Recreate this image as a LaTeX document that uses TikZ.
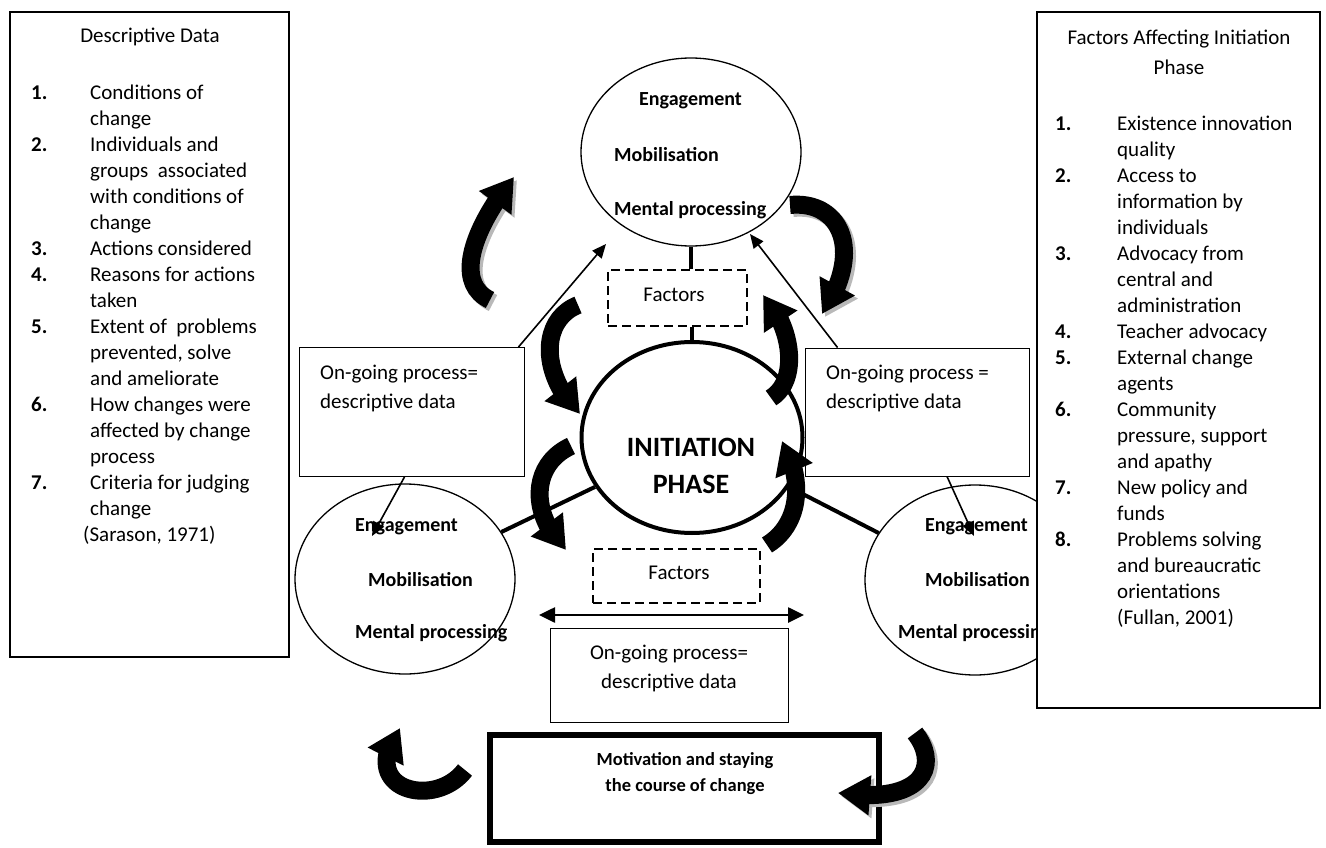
\documentclass[tikz,border=0pt]{standalone}
\usepackage{fontspec}
\setmainfont{Carlito}
\usetikzlibrary{shapes.geometric,arrows.meta,bending}

\tikzset{
  txt/.style={font=\fontsize{21}{26}\selectfont, inner sep=0pt},
  lbl/.style={font=\fontsize{20}{24}\selectfont\bfseries, inner sep=0pt},
  listbox/.style={draw, line width=1.4pt, fill=white, inner sep=0pt},
  procbox/.style={draw, line width=0.9pt, inner sep=0pt},
  facbox/.style={draw, line width=1.6pt, dash pattern=on 9pt off 5pt, inner sep=0pt},
  phase/.style={ellipse, draw, inner sep=0pt},
  link/.style={line width=4pt},
  pointer/.style={line width=1.6pt, -{Triangle[width=12pt,length=14pt]}},
  dblarrow/.style={line width=2.6pt, {Triangle[width=15pt,length=16pt]}-{Triangle[width=15pt,length=16pt]}},
  turn/.style={line width=18pt, -{Triangle[width=38pt,length=32pt]}},
  turnshadow/.style={turn, gray!55, shift={(3,3)}}
}

\begin{document}
\begin{tikzpicture}[x=1pt,y=-1pt]
  \useasboundingbox (0,0) rectangle (1326,848);

  % phases
  \node[phase, line width=1.3pt, minimum width=220pt, minimum height=188pt] (topell) at (691,152) {};
  \node[phase, line width=4pt, minimum width=221pt, minimum height=191pt] (initell) at (692,437.5) {};
  \node[phase, line width=1.3pt, minimum width=220pt, minimum height=190pt] (lell) at (405,579) {};
  \node[phase, line width=1.3pt, minimum width=220pt, minimum height=190pt] (rell) at (975,580) {};

  \node[lbl, anchor=west] (teng) at (639,101) {Engagement};
  \node[lbl, anchor=west] (tmob) at (614,155) {Mobilisation};
  \node[lbl, anchor=west] (tmen) at (614,210) {Mental processing};
  \node[lbl, anchor=west] (leng) at (355,527) {Engagement};
  \node[lbl, anchor=west] (lmob) at (368,580) {Mobilisation};
  \node[lbl, anchor=west] (lmen) at (355,633) {Mental processing};
  \node[lbl, anchor=west] (reng) at (925,527) {Engagement};
  \node[lbl, anchor=west] (rmob) at (925,580) {Mobilisation};
  \node[lbl, anchor=west] (rmen) at (898,633) {Mental processing};

  \node[font=\fontsize{28}{37}\selectfont\bfseries, align=center, inner sep=0pt] (itxt) at (691,466) {INITIATION\\PHASE};

  % factors
  \node[facbox, minimum width=139pt, minimum height=56pt] (tfac) at (677.5,298) {};
  \node[txt] (tfactxt) at (674,295) {Factors};
  \node[facbox, minimum width=167pt, minimum height=54pt] (bfac) at (676.5,576) {};
  \node[txt] (bfactxt) at (679,573) {Factors};

  \draw[link] (topell.south) -- (topell.south |- tfac.north);
  \draw[link] (tfac.south -| initell.north) -- (initell.north);
  \draw[link] (initell.207) -- (lell.26);
  \draw[link] (initell.333) -- (rell.154);

  % on-going process
  \node[procbox, minimum width=225pt, minimum height=129pt] (lproc) at (411.5,412) {};
  \node[txt, anchor=west, align=left] (lproctxt) at (320,388) {On-going process=\\[3pt]descriptive data};
  \node[procbox, minimum width=224pt, minimum height=128pt] (rproc) at (917,412) {};
  \node[txt, anchor=west, align=left] (rproctxt) at (826,388) {On-going process =\\[3pt]descriptive data};
  \node[procbox, minimum width=238pt, minimum height=94pt] (bproc) at (669,675) {};
  \node[txt, align=center] (bproctxt) at (669,668) {On-going process=\\[3pt]descriptive data};

  \coordinate (ltip) at (606,244);
  \coordinate (rtip) at (750,234);
  \coordinate (lltip) at (372,536);
  \coordinate (rrtip) at (974,536);
  \draw[pointer] ([xshift=-6pt]lproc.north east) -- (ltip);
  \draw[pointer] ([xshift=33pt]rproc.north west) -- (rtip);
  \draw[pointer] ([xshift=-7pt]lproc.south) -- (lltip);
  \draw[pointer] ([xshift=30pt]rproc.south) -- (rrtip);

  \coordinate (dl) at (539,615);
  \coordinate (dr) at (804,615);
  \draw[dblarrow] (dl) -- (dr);

  % motivation
  \node[draw, line width=6pt, minimum width=389pt, minimum height=107pt] (motiv) at (684.5,788.5) {};
  \node[font=\fontsize{18.5}{23}\selectfont\bfseries, inner sep=0pt, align=center] (motivtxt) at (685,774) {Motivation and staying\\[3pt]the course of change};

  % curved arrows
  \draw[turnshadow] (490,300) .. controls (452,282) and (475,225) .. (514,177);
  \draw[turn] (490,300) .. controls (452,282) and (475,225) .. (514,177);
  \draw[turnshadow] (790,205) .. controls (840,200) and (865,250) .. (822,314);
  \draw[turn] (790,205) .. controls (840,200) and (865,250) .. (822,314);
  \draw[turn] (578,305) .. controls (540,320) and (540,375) .. (580,414);
  \draw[turn] (571,446) .. controls (530,465) and (530,515) .. (566,550);
  \draw[turn] (771,398) .. controls (800,380) and (792,325) .. (763,295);
  \draw[turn] (767,545) .. controls (800,525) and (805,480) .. (782,441);
  \draw[turn] (465,770) .. controls (435,810) and (355,790) .. (400,728);
  \draw[turnshadow] (915,733) .. controls (940,765) and (925,805) .. (838,793);
  \draw[turn] (915,733) .. controls (940,765) and (925,805) .. (838,793);

  % lists
  \node[listbox, minimum width=279pt, minimum height=645pt] (dbox) at (149.5,334.5) {};
  \node[txt] (dtitle) at (150,37) {Descriptive Data};
  \node[txt, anchor=base west] (dlist) at (31,99.5) {\begin{tabular}[t]{@{}p{59pt}@{}l@{}}
    \textbf{1.} & Conditions of\\
                & change\\
    \textbf{2.} & Individuals and\\
                & groups\ \ associated\\
                & with conditions of\\
                & change\\
    \textbf{3.} & Actions considered\\
    \textbf{4.} & Reasons for actions\\
                & taken\\
    \textbf{5.} & Extent of\ \ problems\\
                & prevented, solve\\
                & and ameliorate\\
    \textbf{6.} & How changes were\\
                & affected by change\\
                & process\\
    \textbf{7.} & Criteria for judging\\
                & change\\
    \multicolumn{2}{@{}l@{}}{\hspace{52pt}(Sarason, 1971)}
  \end{tabular}};

  \node[listbox, minimum width=283pt, minimum height=696pt] (fbox) at (1178.5,360) {};
  \node[txt, align=center] (ftitle) at (1179,52) {Factors Affecting Initiation\\[4pt]Phase};
  \node[txt, anchor=base west] (flist) at (1055,130.5) {\begin{tabular}[t]{@{}p{62pt}@{}l@{}}
    \textbf{1.} & Existence innovation\\
                & quality\\
    \textbf{2.} & Access to\\
                & information by\\
                & individuals\\
    \textbf{3.} & Advocacy from\\
                & central and\\
                & administration\\
    \textbf{4.} & Teacher advocacy\\
    \textbf{5.} & External change\\
                & agents\\
    \textbf{6.} & Community\\
                & pressure, support\\
                & and apathy\\
    \textbf{7.} & New policy and\\
                & funds\\
    \textbf{8.} & Problems solving\\
                & and bureaucratic\\
                & orientations\\
                & (Fullan, 2001)
  \end{tabular}};
\end{tikzpicture}
\end{document}
